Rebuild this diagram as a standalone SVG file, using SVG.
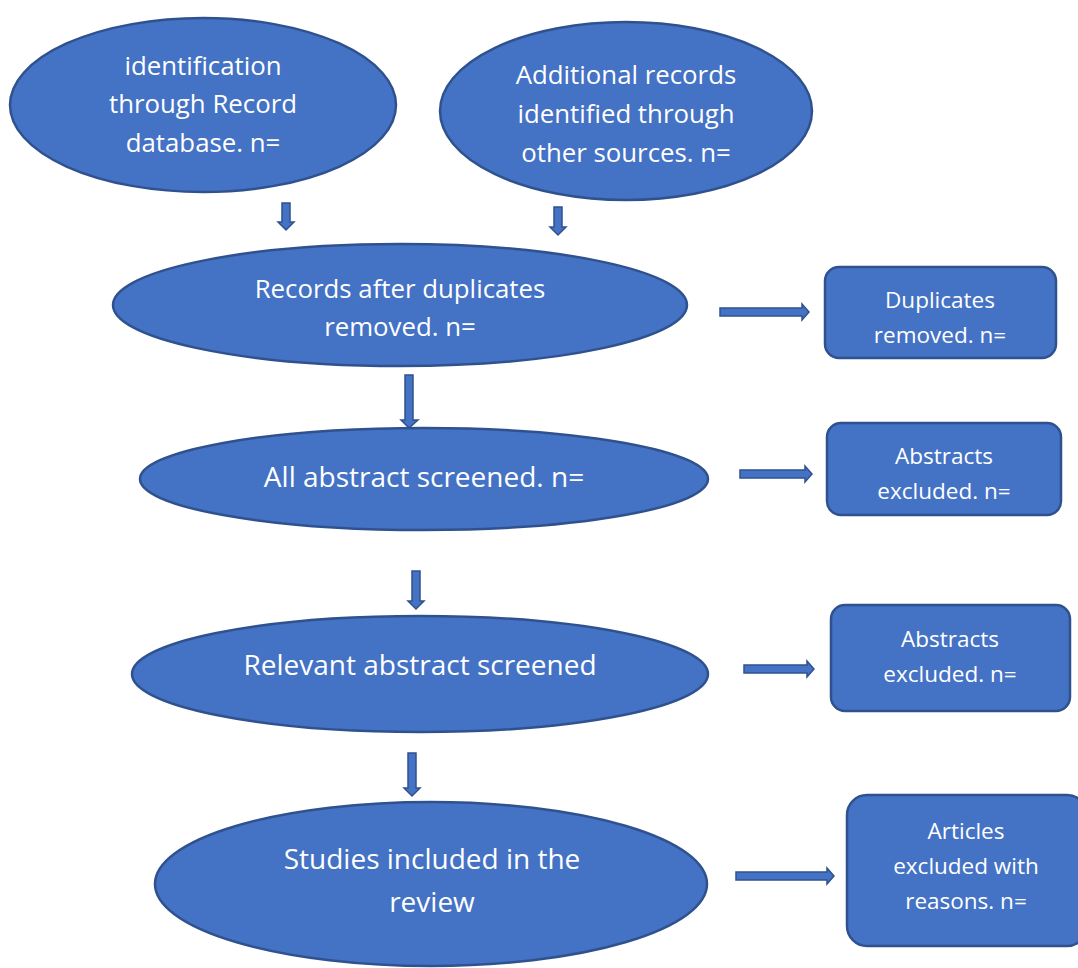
<svg xmlns="http://www.w3.org/2000/svg" width="1078" height="968" viewBox="0 0 1078 968">
<style>
.n{fill:#4472C4;stroke:#2F528F;stroke-width:2.5}
.t{fill:#FFFFFF;font-family:"Open Sans","Liberation Sans",sans-serif;text-anchor:middle}
.e{font-size:25.8px}
.b{font-size:28px}
.r{font-size:22.5px}
.a{fill:#4472C4;stroke:#2F528F;stroke-width:1.5}
</style>
<rect width="1078" height="968" fill="#FFFFFF"/>
<g id="connectors">
<polygon class="a" points="282,203 290,203 290,222 294,222 286,230 278,222 282,222"/>
<polygon class="a" points="554,207 562,207 562,227 566,227 558,235 550,227 554,227"/>
<polygon class="a" points="405,375 413,375 413,420 418,420 409,428 401,420 405,420"/>
<polygon class="a" points="412,571 420,571 420,601 424,601 416,609 408,601 412,601"/>
<polygon class="a" points="408,753 416,753 416,788 420,788 412,796 404,788 408,788"/>
<polygon class="a" points="720,308 802,308 802,304 809,312 802,320 802,316 720,316"/>
<polygon class="a" points="740,470 805,470 805,466 812,474 805,482 805,478 740,478"/>
<polygon class="a" points="744,665 807,665 807,661 814,669 807,677 807,673 744,673"/>
<polygon class="a" points="736,872 827,872 827,868 834,876 827,884 827,880 736,880"/>
</g>
<g id="e1"><ellipse class="n" cx="203" cy="105" rx="193" ry="87"/>
<text class="t e" x="203" y="75">identification</text><text class="t e" x="203" y="113">through Record</text><text class="t e" x="203" y="152">database. n=</text></g>
<g id="e2"><ellipse class="n" cx="626" cy="111" rx="186" ry="89"/>
<text class="t e" x="626" y="84">Additional records</text><text class="t e" x="626" y="123">identified through</text><text class="t e" x="626" y="162">other sources. n=</text></g>
<g id="e3"><ellipse class="n" cx="400" cy="305" rx="287" ry="61"/>
<text class="t e" x="400" y="298">Records after duplicates</text><text class="t e" x="400" y="336">removed. n=</text></g>
<g id="e4"><ellipse class="n" cx="424" cy="479" rx="284" ry="51"/>
<text class="t b" x="424" y="487">All abstract screened. n=</text></g>
<g id="e5"><ellipse class="n" cx="420" cy="674" rx="288" ry="58"/>
<text class="t b" x="420" y="675">Relevant abstract screened</text></g>
<g id="e6"><ellipse class="n" cx="431" cy="884" rx="276" ry="82"/>
<text class="t b" x="432" y="869">Studies included in the</text><text class="t b" x="432" y="912">review</text></g>
<g id="r1"><rect class="n" x="825" y="267" width="231" height="91" rx="14"/>
<text class="t r" x="940" y="308">Duplicates</text><text class="t r" x="940" y="343">removed. n=</text></g>
<g id="r2"><rect class="n" x="827" y="423" width="234" height="92" rx="14"/>
<text class="t r" x="944" y="464">Abstracts</text><text class="t r" x="944" y="499">excluded. n=</text></g>
<g id="r3"><rect class="n" x="831" y="605" width="239" height="106" rx="14"/>
<text class="t r" x="950" y="647">Abstracts</text><text class="t r" x="950" y="682">excluded. n=</text></g>
<g id="r4"><rect class="n" x="847" y="795" width="240" height="151" rx="20"/>
<text class="t r" x="966" y="839">Articles</text><text class="t r" x="966" y="874">excluded with</text><text class="t r" x="966" y="909">reasons. n=</text></g>
</svg>
